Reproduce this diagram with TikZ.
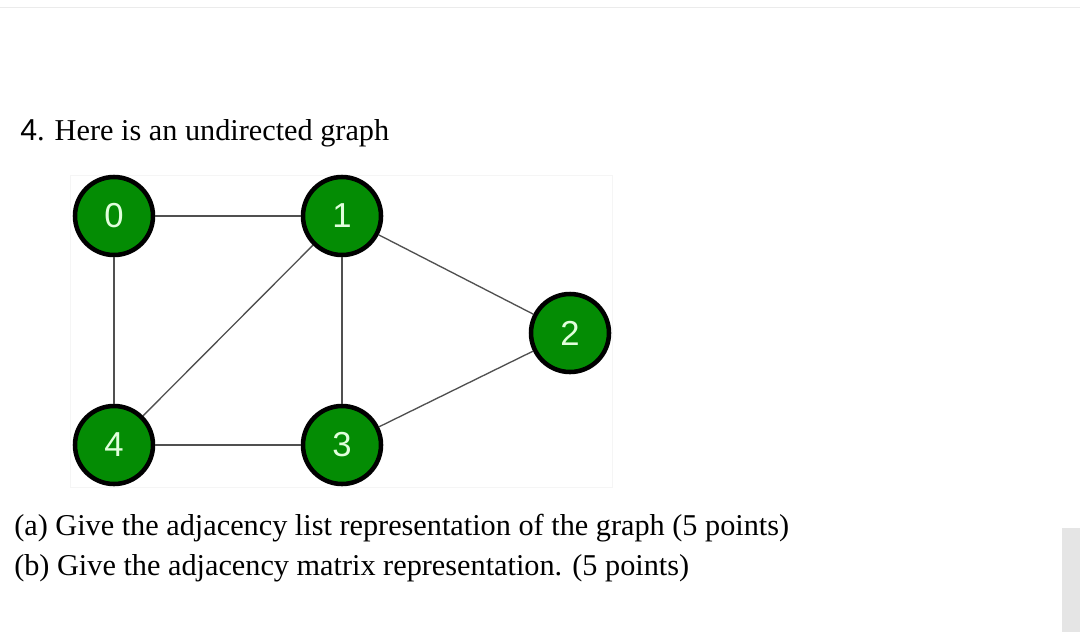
\documentclass[tikz,border=0pt]{standalone}
\usepackage{fontspec}
\setmainfont{Liberation Serif}
\newfontfamily\labelfont{Liberation Sans}
\usetikzlibrary{positioning}

\definecolor{vertexgreen}{RGB}{4,140,4}
\definecolor{edgegrey}{RGB}{80,80,80}
\definecolor{labelwhite}{RGB}{225,255,220}

\begin{document}
\begin{tikzpicture}[
  x=0.75pt, y=-0.75pt,
  vertex/.style={circle, draw=black, line width=3.4pt, fill=vertexgreen,
    minimum size=58.5pt, inner sep=0pt, text=labelwhite,
    font=\labelfont\fontsize{26}{26}\selectfont},
  edge/.style={draw=edgegrey, line width=1pt},
  question/.style={anchor=base west, inner sep=0pt, font=\fontsize{22.7}{27}\selectfont}
]
\useasboundingbox (0,0) rectangle (1080,632);
\draw[black!8, line width=1pt] (0,7.5) -- (1080,7.5);
\fill[black!10] (1062,528) rectangle (1080,632);
\draw[black!4] (70,175) rectangle (612,487);

% the question
\node[question] (title) at (20,140) {{\labelfont 4}. Here is an undirected graph};

% the graph
\node[vertex] (v0) at (114,216) {0};
\node[vertex] (v1) at (342,216) {1};
\node[vertex] (v2) at (570,333) {2};
\node[vertex] (v3) at (342,445) {3};
\node[vertex] (v4) at (114,445) {4};

\draw[edge] (v0) -- (v1);
\draw[edge] (v0) -- (v4);
\draw[edge] (v1) -- (v4);
\draw[edge] (v1) -- (v3);
\draw[edge] (v1) -- (v2);
\draw[edge] (v2) -- (v3);
\draw[edge] (v3) -- (v4);

% the two parts
\node[question] (parta) at (14,535) {(a) Give the adjacency list representation of the graph (5 points)};
\node[question] (partb) at (14,575) {(b) Give the adjacency matrix representation. (5 points)};
\end{tikzpicture}
\end{document}
